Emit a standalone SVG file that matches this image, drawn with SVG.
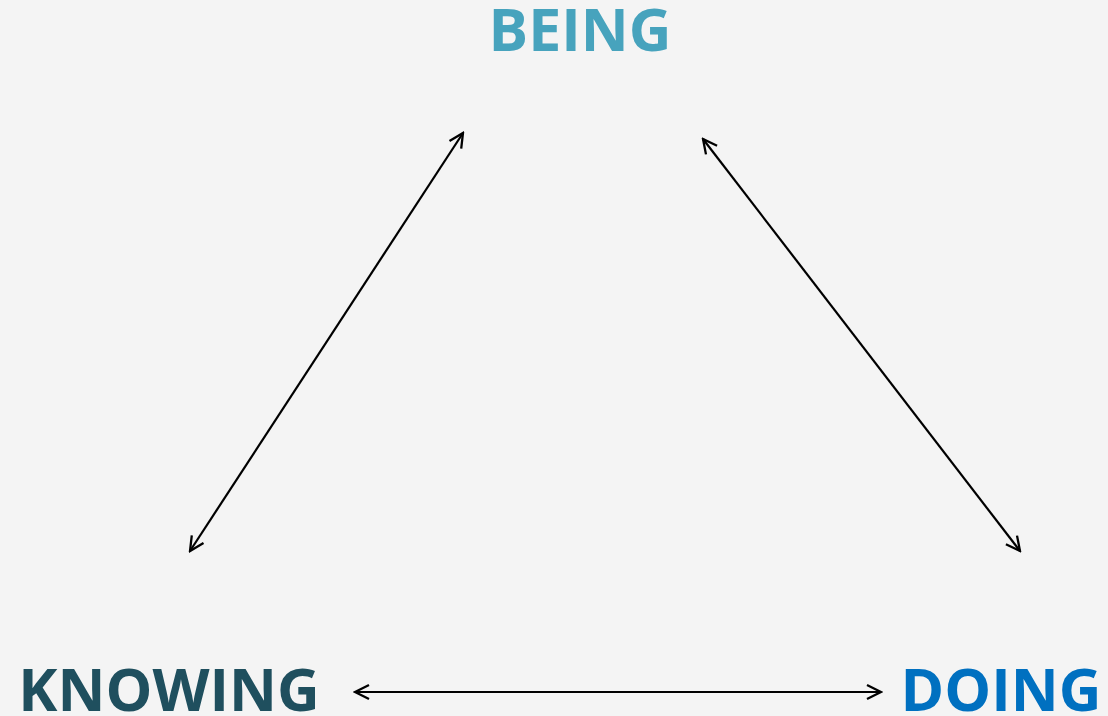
<svg xmlns="http://www.w3.org/2000/svg" width="1108" height="716" viewBox="0 0 1108 716">
<style>
.lbl{font-family:"Open Sans","Noto Sans",sans-serif;font-weight:bold;font-size:59px}
.c{stroke:#000;stroke-width:2.2;fill:none}
</style>
<defs>
<marker id="ah" viewBox="0 0 18 18" refX="16" refY="9" markerWidth="18" markerHeight="18" markerUnits="userSpaceOnUse" orient="auto-start-reverse">
<path d="M2,2 L16,9 L2,16" fill="none" stroke="#000" stroke-width="2.3"/>
</marker>
</defs>
<rect width="1108" height="716" fill="#f4f4f4"/>
<g id="being"><text class="lbl" x="580" y="51" text-anchor="middle" fill="#47a3bd">BEING</text></g>
<g id="knowing"><text class="lbl" x="169" y="711" text-anchor="middle" fill="#1f4f5e">KNOWING</text></g>
<g id="doing"><text class="lbl" x="1001" y="711" text-anchor="middle" fill="#0070c0">DOING</text></g>
<g id="connectors">
<line class="c" x1="190" y1="551" x2="463" y2="133" marker-start="url(#ah)" marker-end="url(#ah)"/>
<line class="c" x1="703" y1="139" x2="1020" y2="551" marker-start="url(#ah)" marker-end="url(#ah)"/>
<line class="c" x1="355" y1="692" x2="881" y2="692" marker-start="url(#ah)" marker-end="url(#ah)"/>
</g>
</svg>
